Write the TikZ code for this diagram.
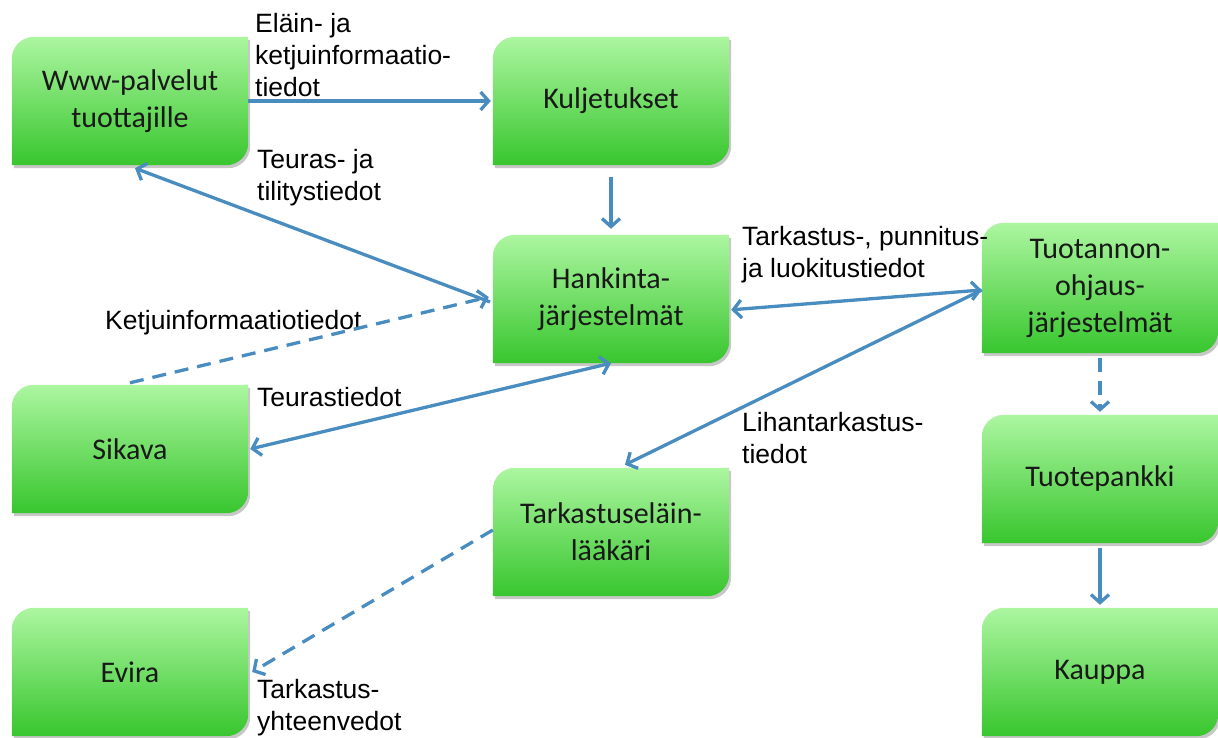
\documentclass[tikz,border=0pt]{standalone}
\usepackage{fontspec}
\setmainfont{Liberation Sans}
\newfontfamily\carlito{Carlito}
\usetikzlibrary{arrows.meta,calc,backgrounds}
\definecolor{gtop}{RGB}{172,246,160}
\definecolor{gbot}{RGB}{56,198,46}
\definecolor{arr}{RGB}{72,140,192}
\newcommand{\gfill}[4]{\path[#4] ([xshift=#2,yshift=#3]#1.south west) -- ([xshift=#2,yshift=#3-22pt]#1.north west) arc[start angle=180,end angle=90,radius=22pt] -- ([xshift=#2,yshift=#3]#1.north east) -- ([xshift=#2,yshift=#3+22pt]#1.south east) arc[start angle=0,end angle=-90,radius=22pt] -- cycle;}
\begin{document}
\begin{tikzpicture}[x=1pt,y=1pt,
  gnode/.style={minimum width=236pt, minimum height=128pt, inner sep=0pt, align=center,
    font=\carlito\fontsize{30}{37}\selectfont, text=black!90},
  lab/.style={anchor=west, align=left, inner sep=0pt, font=\fontsize{26.5}{32}\selectfont},
  conn/.style={draw=arr, line width=3.3pt, -{Straight Barb[length=8pt,width=18pt]}},
  conn2/.style={draw=arr, line width=3.3pt, {Straight Barb[length=8pt,width=18pt]}-{Straight Barb[length=8pt,width=18pt]}},
  dconn/.style={conn, dash pattern=on 14pt off 9pt}]
\useasboundingbox (0,0) rectangle (1218,738);
\node[gnode] (www) at (130,637) {Www-palvelut\\tuottajille};
\node[gnode] (kul) at (611,637) {Kuljetukset};
\node[gnode] (han) at (611,439) {Hankinta-\\järjestelmät};
\node[gnode, minimum height=130pt] (tuo) at (1100,450) {Tuotannon-\\ohjaus-\\järjestelmät};
\node[gnode] (sik) at (130,289) {Sikava};
\node[gnode] (tar) at (611,206) {Tarkastuseläin-\\lääkäri};
\node[gnode] (tpa) at (1100,259) {Tuotepankki};
\node[gnode] (evi) at (130,66) {Evira};
\node[gnode] (kau) at (1100,66) {Kauppa};
\begin{pgfonlayer}{background}
\foreach \n in {www,kul,han,tuo,sik,tar,tpa,evi,kau}{%
  \gfill{\n}{2pt}{-3pt}{fill=black,opacity=0.22}
  \gfill{\n}{0pt}{0pt}{top color=gtop,bottom color=gbot}
}
\end{pgfonlayer}
\node[lab] (l1) at (255,683) {Eläin- ja\\ketjuinformaatio-\\tiedot};
\node[lab] (l2) at (257,560) {Teuras- ja\\tilitystiedot};
\node[lab] (l3) at (105,415) {Ketjuinformaatiotiedot};
\node[lab] (l4) at (257,341) {Teurastiedot};
\node[lab] (l5) at (742,483) {Tarkastus-, punnitus-\\ja luokitustiedot};
\node[lab] (l6) at (742,300) {Lihantarkastus-\\tiedot};
\node[lab] (l7) at (257,30) {Tarkastus-\\yhteenvedot};
\draw[conn, shorten >=2pt] (www.east) -- (kul.west);
\draw[conn] ([yshift=-12pt]kul.south) -- ([yshift=6pt]han.north);
\draw[conn, shorten <=3pt] ([yshift=-4pt]han.west) -- ([xshift=5pt,yshift=-3pt]www.south);
\draw[dconn] ([yshift=2pt]sik.north) -- ([yshift=2pt,xshift=-4pt]han.west);
\draw[conn2] (han.south) -- ([xshift=2pt]sik.east);
\draw[conn2, shorten <=2pt] ([yshift=-11pt]han.east) -- ([yshift=-2pt]tuo.west);
\draw[conn] ([yshift=-2pt]tuo.west) -- ([xshift=14pt,yshift=3pt]tar.north);
\draw[dconn] ([yshift=-5pt]tuo.south) -- ([yshift=3pt]tpa.north);
\draw[conn] ([yshift=-5pt]tpa.south) -- ([yshift=3pt]kau.north);
\draw[dconn] ([yshift=2pt]tar.west) -- ([xshift=4pt]evi.east);
\end{tikzpicture}
\end{document}
